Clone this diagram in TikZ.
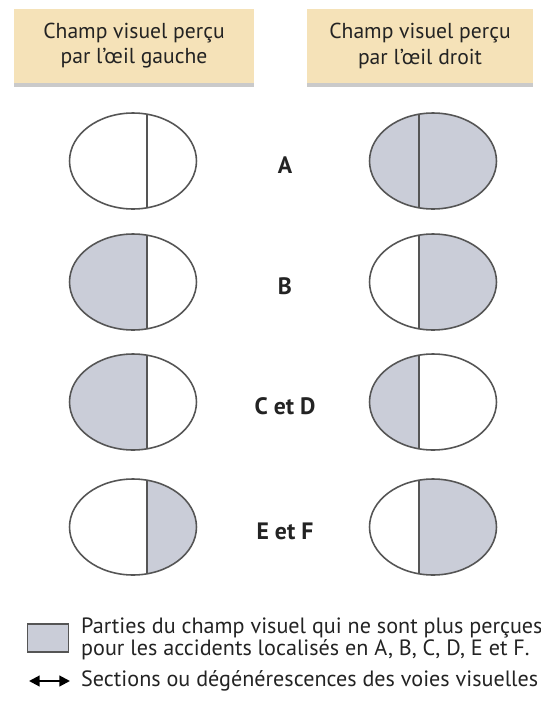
\documentclass[tikz,border=0pt]{standalone}
\usepackage{fontspec}
\setmainfont{PT Sans}
\definecolor{HeadTan}{RGB}{245,226,184}
\definecolor{FieldGrey}{RGB}{202,205,216}
\definecolor{LineGrey}{RGB}{85,85,85}
\definecolor{TextDark}{RGB}{35,35,35}
\usetikzlibrary{arrows.meta,positioning,calc,shadows}

\begin{document}
\begin{tikzpicture}[x=0.02cm,y=-0.02cm,
  headbox/.style={fill=HeadTan,draw=none,align=center,text=TextDark,
    font=\fontsize{12.3}{14.3}\selectfont,minimum height=1.5cm,
    drop shadow={shadow xshift=0pt,shadow yshift=-2pt,fill=black!35,opacity=0.6}},
  rowlabel/.style={font=\fontsize{13.5}{15}\selectfont\bfseries,text=TextDark},
  eyeline/.style={draw=LineGrey,line width=0.9pt},
  legendtext/.style={anchor=west,align=left,text=TextDark,font=\fontsize{12.6}{12.8}\selectfont}]
\useasboundingbox (0,0) rectangle (541,714);
% headers
\node[headbox,minimum width=4.8cm] (gauche) at (134,46) {Champ visuel perçu\\par l’œil gauche};
\node[headbox,minimum width=4.52cm] (droit) at (420,46) {Champ visuel perçu\\par l’œil droit};
% visual fields: row y / label / left eye (left half, right half) / right eye (left half, right half)
\foreach \y/\lab/\name/\al/\ar/\bl/\br in {
    161/A/labA/white/white/FieldGrey/FieldGrey,
    282/B/labB/FieldGrey/white/white/FieldGrey,
    402/C et D/labCD/FieldGrey/white/FieldGrey/white,
    527/E et F/labEF/white/FieldGrey/white/FieldGrey}{
  % left eye
  \begin{scope}
    \clip (133,\y) ellipse [x radius=1.27cm,y radius=0.96cm];
    \fill[\al] (60,\y-60) rectangle (147,\y+60);
    \fill[\ar] (147,\y-60) rectangle (210,\y+60);
    \draw[eyeline] (147,\y-60) -- (147,\y+60);
  \end{scope}
  \draw[eyeline] (133,\y) ellipse [x radius=1.27cm,y radius=0.96cm];
  % right eye
  \begin{scope}
    \clip (433,\y) ellipse [x radius=1.27cm,y radius=0.96cm];
    \fill[\bl] (360,\y-60) rectangle (419,\y+60);
    \fill[\br] (419,\y-60) rectangle (510,\y+60);
    \draw[eyeline] (419,\y-60) -- (419,\y+60);
  \end{scope}
  \draw[eyeline] (433,\y) ellipse [x radius=1.27cm,y radius=0.96cm];
  \node[rowlabel] (\name) at (285,\y+4) {\lab};
}
% legend
\node[draw=LineGrey,line width=0.9pt,fill=FieldGrey,minimum width=0.82cm,minimum height=0.56cm,inner sep=0pt] (swatch) at (48,638) {};
\node[legendtext] (partiesTxt) at (75,639) {Parties du champ visuel qui ne sont plus perçues\\pour les accidents localisés en A, B, C, D, E et F.};
\coordinate (flecheG) at (29,681);
\coordinate (flecheD) at (70,681);
\draw[{Triangle[length=6pt,width=6pt]}-{Triangle[length=6pt,width=6pt]},line width=1.2pt,black] (flecheG) -- (flecheD);
\node[legendtext] (sectionsTxt) at (75,681) {Sections ou dégénérescences des voies visuelles};
\end{tikzpicture}
\end{document}
